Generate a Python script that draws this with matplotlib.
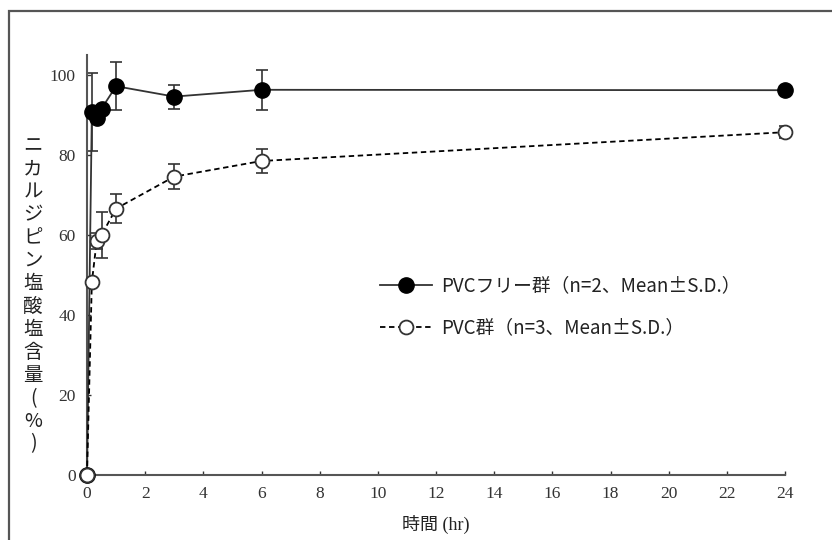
import matplotlib
matplotlib.use("Agg")
import matplotlib.pyplot as plt
from matplotlib.patches import Rectangle

plt.rcParams['font.family'] = ['Liberation Serif', 'Noto Sans CJK JP', 'DejaVu Sans']

# 時間 (hr)
jikan_free = [0, 1 / 6, 1 / 3, 0.5, 1, 3, 6, 24]
jikan_pvc = [0, 1 / 6, 1 / 3, 0.5, 1, 3, 6, 24]

# PVCフリー群 (n=2)
ganryo_free = [0, 90.7, 89.2, 91.6, 97.2, 94.6, 96.3, 96.2]
sd_free = [0, 9.8, 1.0, 1.0, 6.0, 3.0, 5.0, 0.8]

# PVC群 (n=3)
ganryo_pvc = [0, 48.2, 58.5, 60.0, 66.6, 74.6, 78.5, 85.7]
sd_pvc = [0, 1.0, 2.0, 5.7, 3.6, 3.2, 3.0, 1.5]

nhan_free = 'PVCフリー群（n=2、Mean±S.D.）'
nhan_pvc = 'PVC群（n=3、Mean±S.D.）'
x_ticks = list(range(0, 25, 2))
y_ticks = [0, 20, 40, 60, 80, 100]
y_label = 'ニカルジピン塩酸塩含量(%)'

fig = plt.figure(figsize=(8.32, 5.4), dpi=100)
ax = fig.add_axes([87 / 832, 65 / 540, 698 / 832, 420 / 540])

# khung ngoài
fig.patches.append(Rectangle((9 / 832, -0.1), 1.2, 1.1 - 11 / 540,
                             transform=fig.transFigure, fill=False,
                             edgecolor='#555555', linewidth=1.6))

# thanh sai số
ax.errorbar(jikan_free, ganryo_free, yerr=sd_free, fmt='none',
            ecolor='#333333', elinewidth=1.2, capsize=4.5, capthick=1.2, zorder=2)
ax.errorbar(jikan_pvc, ganryo_pvc, yerr=sd_pvc, fmt='none',
            ecolor='#333333', elinewidth=1.2, capsize=4.5, capthick=1.2, zorder=2)

ax.plot(jikan_free, ganryo_free, color='#333333', linewidth=1.3,
        marker='o', markersize=11, markerfacecolor='black',
        markeredgecolor='black', label=nhan_free, zorder=3, clip_on=False)
ax.plot(jikan_pvc, ganryo_pvc, color='black', linewidth=1.3,
        linestyle=(0, (3, 2)), marker='o', markersize=10,
        markerfacecolor='white', markeredgecolor='#333333',
        markeredgewidth=1.3, label=nhan_pvc, zorder=4, clip_on=False)

ax.set_xlim(0, 24)
ax.set_ylim(0, 105)
ax.set_xticks(x_ticks)
ax.set_yticks(y_ticks)
ax.tick_params(direction='in', length=3, width=1, labelsize=12.5,
               colors='#333333', pad=8)
for s in ['top', 'right']:
    ax.spines[s].set_visible(False)
for s in ['left', 'bottom']:
    ax.spines[s].set_color('#555555')
    ax.spines[s].set_linewidth(1.5)
ax.patch.set_visible(False)

ax.set_xlabel('時間 (hr)', fontsize=13, color='#222222', labelpad=9)

fig.text(33 / 832, 1 - 295 / 540, '\n'.join(y_label), fontsize=14,
         family=['Noto Sans CJK JP', 'DejaVu Sans'], color='#222222',
         ha='center', va='center', linespacing=1.12)

leg = ax.legend(loc='upper left', bbox_to_anchor=(0.395, 0.515), frameon=False,
                handlelength=2.8, labelspacing=1.12, handletextpad=0.5,
                prop={'family': ['Noto Sans CJK JP', 'DejaVu Sans'], 'size': 13.5})
for t in leg.get_texts():
    t.set_color('#222222')

fig.savefig('out.png', dpi=100)
